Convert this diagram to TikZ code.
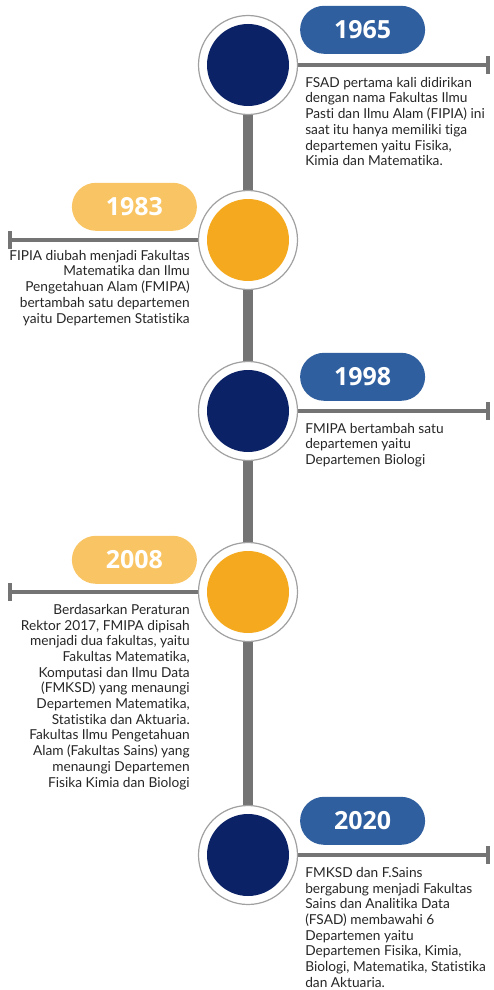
\documentclass[tikz,border=0pt]{standalone}
\usepackage{fontspec}
\setmainfont[Ligatures=NoCommon]{Lato}
\newfontfamily\yearfont{Open Sans}
\usepackage{tikz}
\usetikzlibrary{positioning}
\usetikzlibrary{arrows.meta,shapes.misc,backgrounds}
\definecolor{navy}{HTML}{0B2366}
\definecolor{badgeblue}{HTML}{2F5F9F}
\definecolor{amber}{HTML}{F5A91E}
\definecolor{paleamber}{HTML}{F9C564}
\definecolor{linegray}{HTML}{747474}
\definecolor{ringgray}{HTML}{A0A0A0}
\definecolor{storytext}{HTML}{262626}
\tikzstyle{spine}=[line width=10pt,draw=linegray]
\tikzstyle{branch}=[-{Bar[width=18pt]},line width=4.5pt,draw=linegray]
\tikzstyle{ring}=[circle,draw=ringgray,line width=1.2pt,fill=white,minimum size=99pt,inner sep=0pt]
\tikzstyle{badge}=[rounded rectangle,minimum width=125pt,minimum height=48pt,inner sep=0pt,text=white,font=\yearfont\bfseries\fontsize{25}{25}\selectfont]
\tikzstyle{story}=[inner sep=0pt,text=storytext,font=\fontsize{13.7}{15.7}\selectfont]
\newcommand{\eventnode}[3]{
  \node [ring] (#1) at #2 {};
  \node [circle,fill=#3,minimum size=82pt,inner sep=0pt] (#1dot) at (#1) {}
}

\begin{document}
\begin{tikzpicture}[x=1pt,y=-1pt]
\useasboundingbox (0,0) rectangle (493,990);
        \eventnode{e1}{(248,65)}{navy};
        \eventnode{e2}{(248,240)}{amber};
        \eventnode{e3}{(248,411)}{navy};
        \eventnode{e4}{(248,592)}{amber};
        \eventnode{e5}{(248,855)}{navy};
      \coordinate[right=192pt of e1] (t1);
      \coordinate[left=190pt of e2] (t2);
      \coordinate[right=192pt of e3] (t3);
      \coordinate[left=190pt of e4] (t4);
      \coordinate[right=192pt of e5] (t5);
\begin{scope}[on background layer]
      \draw[spine] (e1) -- (e5);
            \draw[branch] (e1) -- (t1);
            \draw[branch] (e2) -- (t2);
            \draw[branch] (e3) -- (t3);
            \draw[branch] (e4) -- (t4);
            \draw[branch] (e5) -- (t5);
\end{scope}

\node[badge,fill=badgeblue,above right=11pt and 64.5pt of e1.east,anchor=south] (y1) {1965};
\node[badge,fill=paleamber,above left=9pt and 63.5pt of e2.west,anchor=south] (y2) {1983};
\node[badge,fill=badgeblue,above right=10pt and 64.5pt of e3.east,anchor=south] (y3) {1998};
\node[badge,fill=paleamber,above left=8pt and 63.5pt of e4.west,anchor=south] (y4) {2008};
\node[badge,fill=badgeblue,above right=10pt and 64.5pt of e5.east,anchor=south] (y5) {2020};

\node[story,align=left,below right=12pt and 7pt of e1.east] (s1) {FSAD pertama kali didirikan\\dengan nama Fakultas Ilmu\\Pasti dan Ilmu Alam (FIPIA) ini\\saat itu hanya memiliki tiga\\departemen yaitu Fisika,\\Kimia dan Matematika.};
\node[story,align=right,below left=10pt and 8pt of e2.west] (s2) {FIPIA diubah menjadi Fakultas\\Matematika dan Ilmu\\Pengetahuan Alam (FMIPA)\\bertambah satu departemen\\yaitu Departemen Statistika};
\node[story,align=left,below right=12pt and 7pt of e3.east] (s3) {FMIPA bertambah satu\\departemen yaitu\\Departemen Biologi};
\node[story,align=right,below left=12pt and 8pt of e4.west] (s4) {Berdasarkan Peraturan\\Rektor 2017, FMIPA dipisah\\menjadi dua fakultas, yaitu\\Fakultas Matematika,\\Komputasi dan Ilmu Data\\(FMKSD) yang menaungi\\Departemen Matematika,\\Statistika dan Aktuaria.\\Fakultas Ilmu Pengetahuan\\Alam (Fakultas Sains) yang\\menaungi Departemen\\Fisika Kimia dan Biologi};
\node[story,align=left,below right=12pt and 7pt of e5.east] (s5) {FMKSD dan F.Sains\\bergabung menjadi Fakultas\\Sains dan Analitika Data\\(FSAD) membawahi 6\\Departemen yaitu\\Departemen Fisika, Kimia,\\Biologi, Matematika, Statistika\\dan Aktuaria.};
      \end{tikzpicture}
\end{document}
